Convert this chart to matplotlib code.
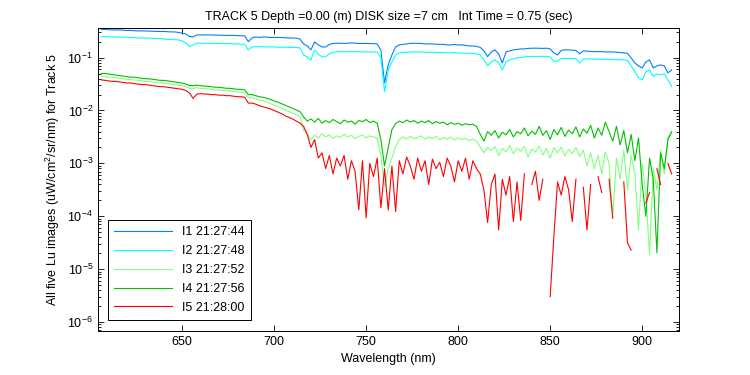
import numpy as np
import matplotlib
matplotlib.use('Agg')
import matplotlib.pyplot as plt
from matplotlib.ticker import LogLocator, NullFormatter

plt.rcParams['font.family'] = ['Liberation Sans', 'DejaVu Sans']
plt.rcParams['mathtext.fontset'] = 'custom'
plt.rcParams['mathtext.rm'] = 'Liberation Sans'
plt.rcParams['mathtext.it'] = 'Liberation Sans'
plt.rcParams['font.size'] = 9

nan = float('nan')

# wavelength grid (nm), 2 nm steps
wl = np.arange(606, 917, 2)

# log10 of Lu
lu1_log = [
    -0.467, -0.467, -0.471, -0.476, -0.476, -0.476, -0.482, -0.486, -0.486, -0.490,
    -0.495, -0.495, -0.495, -0.499, -0.501, -0.505, -0.505, -0.505, -0.509, -0.514,
    -0.514, -0.524, -0.539, -0.552, -0.599, -0.609, -0.571, -0.571, -0.571, -0.571,
    -0.571, -0.575, -0.577, -0.577, -0.580, -0.580, -0.580, -0.584, -0.590, -0.590,
    -0.698, -0.628, -0.609, -0.618, -0.609, -0.614, -0.618, -0.618, -0.618, -0.622,
    -0.628, -0.628, -0.628, -0.633, -0.647, -0.741, -0.779, -0.854, -0.703, -0.760,
    -0.798, -0.798, -0.750, -0.732, -0.728, -0.728, -0.732, -0.728, -0.722, -0.728,
    -0.732, -0.732, -0.732, -0.735, -0.735, -0.741, -0.854, -1.478, -1.138, -0.949,
    -0.798, -0.760, -0.750, -0.741, -0.732, -0.728, -0.732, -0.732, -0.741, -0.741,
    -0.741, -0.747, -0.750, -0.750, -0.760, -0.760, -0.750, -0.760, -0.760, -0.769,
    -0.779, -0.779, -0.788, -0.807, -0.873, -0.981, -0.892, -0.854, -0.930, -1.100,
    -0.892, -0.873, -0.854, -0.845, -0.836, -0.836, -0.826, -0.822, -0.822, -0.822,
    -0.826, -0.822, -0.836, -0.911, -0.949, -0.864, -0.854, -0.854, -0.860, -0.864,
    -0.930, -0.873, -0.879, -0.883, -0.887, -0.887, -0.887, -0.892, -0.892, -0.892,
    -0.898, -0.902, -0.911, -0.917, -1.006, -1.100, -1.157, -1.195, -1.081, -1.043,
    -1.195, -1.157, -1.138, -1.157, -1.289, -1.233,
]

lu2_log = [
    -0.603, -0.603, -0.609, -0.609, -0.609, -0.614, -0.614, -0.614, -0.622, -0.622,
    -0.628, -0.628, -0.628, -0.633, -0.633, -0.641, -0.641, -0.647, -0.652, -0.660,
    -0.660, -0.665, -0.684, -0.722, -0.792, -0.760, -0.728, -0.728, -0.728, -0.728,
    -0.732, -0.732, -0.732, -0.735, -0.735, -0.735, -0.741, -0.741, -0.747, -0.747,
    -0.854, -0.798, -0.792, -0.798, -0.792, -0.798, -0.798, -0.798, -0.803, -0.803,
    -0.803, -0.807, -0.807, -0.807, -0.817, -0.949, -0.987, -1.043, -0.854, -0.930,
    -0.987, -0.981, -0.930, -0.898, -0.892, -0.887, -0.892, -0.887, -0.887, -0.887,
    -0.887, -0.892, -0.892, -0.892, -0.892, -0.898, -1.006, -1.643, -1.233, -1.081,
    -0.949, -0.911, -0.902, -0.898, -0.892, -0.892, -0.892, -0.892, -0.898, -0.898,
    -0.898, -0.902, -0.905, -0.905, -0.911, -0.911, -0.905, -0.911, -0.917, -0.917,
    -0.917, -0.921, -0.930, -0.949, -1.043, -1.157, -1.081, -1.043, -1.100, -1.233,
    -1.081, -1.043, -1.025, -1.006, -0.996, -0.987, -0.981, -0.977, -0.977, -0.977,
    -0.977, -0.977, -0.987, -1.076, -1.062, -1.015, -1.015, -1.015, -1.015, -1.019,
    -1.106, -1.025, -1.025, -1.025, -1.030, -1.030, -1.034, -1.034, -1.034, -1.038,
    -1.038, -1.043, -1.043, -1.053, -1.157, -1.265, -1.384, -1.422, -1.270, -1.233,
    -1.359, -1.308, -1.327, -1.308, -1.422, -1.548,
]

lu3_log = [
    -1.35, -1.36, -1.37, -1.37, -1.38, -1.39, -1.40, -1.41, -1.42, -1.42,
    -1.43, -1.44, -1.45, -1.45, -1.46, -1.47, -1.48, -1.48, -1.49, -1.50,
    -1.51, -1.52, -1.53, -1.55, -1.58, -1.58, -1.57, -1.58, -1.59, -1.59,
    -1.60, -1.61, -1.61, -1.62, -1.63, -1.63, -1.64, -1.65, -1.65, -1.66,
    -1.76, -1.76, -1.78, -1.80, -1.82, -1.84, -1.87, -1.90, -1.93, -1.96,
    -1.99, -2.02, -2.05, -2.08, -2.12, -2.37, -2.45, -2.55, -2.47, -2.52,
    -2.44, -2.50, -2.46, -2.53, -2.48, -2.51, -2.45, -2.50, -2.47, -2.53,
    -2.49, -2.46, -2.52, -2.48, -2.50, -2.52, -2.85, -3.44, -3.10, -2.90,
    -2.69, -2.55, -2.50, -2.54, -2.49, -2.53, -2.51, -2.48, -2.54, -2.50,
    -2.53, -2.49, -2.55, -2.51, -2.54, -2.50, -2.56, -2.52, -2.55, -2.53,
    -2.57, -2.54, -2.58, -2.69, -2.80, -2.70, -2.76, -2.68, -2.85, -2.72,
    -2.78, -2.66, -2.82, -2.71, -2.77, -2.68, -2.88, -2.73, -2.79, -2.67,
    -2.84, -2.72, -2.90, -2.70, -2.80, -2.69, -2.86, -2.74, -2.81, -2.70,
    -2.87, -2.75, -3.05, -2.80, -3.10, -2.85, -3.20, -2.78, -3.00, -4.01,
    -2.90, -3.30, -2.75, -3.50, -2.85, -3.20, -4.26, -3.00, -3.60, -4.73,
    -3.10, -3.50, -2.75, -3.20, -2.50, -2.42,
]

lu4_log = [
    -1.30, -1.30, -1.31, -1.32, -1.33, -1.34, -1.35, -1.36, -1.37, -1.37,
    -1.38, -1.39, -1.40, -1.40, -1.41, -1.42, -1.43, -1.43, -1.44, -1.45,
    -1.46, -1.47, -1.48, -1.50, -1.53, -1.53, -1.52, -1.53, -1.54, -1.54,
    -1.55, -1.56, -1.56, -1.57, -1.58, -1.58, -1.59, -1.60, -1.60, -1.61,
    -1.70, -1.70, -1.72, -1.74, -1.75, -1.77, -1.79, -1.82, -1.84, -1.87,
    -1.90, -1.93, -1.96, -1.99, -2.02, -2.12, -2.20, -2.16, -2.22, -2.15,
    -2.24, -2.19, -2.23, -2.17, -2.21, -2.25, -2.18, -2.22, -2.20, -2.26,
    -2.19, -2.21, -2.17, -2.23, -2.20, -2.24, -2.55, -3.05, -2.70, -2.36,
    -2.25, -2.20, -2.23, -2.18, -2.22, -2.19, -2.24, -2.20, -2.23, -2.19,
    -2.25, -2.21, -2.24, -2.22, -2.27, -2.23, -2.26, -2.24, -2.28, -2.25,
    -2.27, -2.26, -2.30, -2.45, -2.58, -2.40, -2.47, -2.38, -2.52, -2.41,
    -2.46, -2.36, -2.50, -2.40, -2.44, -2.33, -2.48, -2.39, -2.45, -2.30,
    -2.47, -2.38, -2.55, -2.36, -2.46, -2.32, -2.49, -2.37, -2.44, -2.31,
    -2.50, -2.35, -2.43, -2.28, -2.52, -2.33, -2.47, -2.22, -2.40, -2.58,
    -2.30, -2.65, -2.38, -2.80, -2.45, -2.95, -2.52, -3.40, -4.00, -2.90,
    -3.30, -4.69, -2.80, -3.10, -2.55, -2.40,
]

lu5_log = [
    -1.42, -1.43, -1.44, -1.45, -1.45, -1.46, -1.47, -1.48, -1.48, -1.49,
    -1.50, -1.51, -1.51, -1.52, -1.53, -1.54, -1.55, -1.55, -1.56, -1.57,
    -1.58, -1.59, -1.60, -1.62, -1.67, -1.77, -1.69, -1.68, -1.69, -1.69,
    -1.70, -1.70, -1.71, -1.71, -1.72, -1.72, -1.73, -1.74, -1.74, -1.75,
    -1.86, -1.86, -1.88, -1.91, -1.93, -1.95, -1.97, -2.00, -2.03, -2.06,
    -2.10, -2.13, -2.16, -2.20, -2.24, -2.30, -2.45, -2.70, -2.55, -2.90,
    -2.80, -3.10, -2.85, -3.20, -2.90, -3.05, -2.85, -3.30, -2.95, -3.15,
    -3.88, -2.95, -4.03, -3.00, -3.25, -2.90, -3.84, -3.10, -3.88, -3.05,
    -3.91, -2.95, -3.20, -2.88, -3.05, -3.30, -2.90, -3.15, -2.95, -3.40,
    -2.92, -3.10, -2.98, -3.25, -2.90, -3.05, -3.35, -2.95, -3.15, -2.90,
    -3.30, -2.95, -3.10, -3.20, -3.50, -4.12, -3.40, -3.20, -4.26, -3.30,
    -3.60, -3.25, -4.10, -3.35, -4.08, -3.20, nan, -3.40, -3.15, -3.70,
    -3.30, nan, -5.52, -4.39, -3.35, -3.60, -3.25, -3.50, -4.10, -3.30,
    nan, -3.45, -4.26, -3.40, nan, -3.25, -3.55, nan, -3.30, -4.04,
    nan, nan, -3.35, -4.50, -4.64, nan, -3.20, nan, -3.75, -3.55,
    nan, -3.10, -3.40, nan, -3.00, -3.20,
]

labels = ['I1 21:27:44', 'I2 21:27:48', 'I3 21:27:52', 'I4 21:27:56', 'I5 21:28:00']
colors = ['#0080ff', '#00ffff', '#80ff80', '#00c000', '#ff0000']
series = [lu1_log, lu2_log, lu3_log, lu4_log, lu5_log]

fig = plt.figure(figsize=(7.5, 3.75), dpi=100)
ax = fig.add_axes([98 / 750, 1 - 331 / 375, 581 / 750, 303 / 375])

for vals, lab, col in zip(series, labels, colors):
    ax.plot(wl, 10 ** np.array(vals), color=col, lw=0.8, label=lab)

ax.set_yscale('log')
ax.set_xlim(604.3, 920)
ax.set_ylim(10 ** -6.17, 10 ** -0.44)
ax.set_xticks([650, 700, 750, 800, 850, 900])
ax.yaxis.set_major_locator(LogLocator(base=10, numticks=12))
ax.yaxis.set_minor_locator(LogLocator(base=10, subs=np.arange(2, 10), numticks=12))
ax.yaxis.set_minor_formatter(NullFormatter())
ax.tick_params(which='both', direction='in', top=True, right=True, width=0.6)
ax.tick_params(which='major', length=4)
ax.tick_params(which='minor', length=2)
for s in ax.spines.values():
    s.set_linewidth(0.7)

ax.set_xlabel('Wavelength (nm)')
ax.set_ylabel('All five Lu images (uW/cm$^2$/sr/nm) for Track 5')
ax.set_title('TRACK 5 Depth =0.00 (m) DISK size =7 cm   Int Time = 0.75 (sec)', fontsize=9)

leg = ax.legend(loc='lower left', bbox_to_anchor=(0.017, 0.036), borderaxespad=0,
                handlelength=4.6, labelspacing=0.55, fancybox=False,
                edgecolor='black', framealpha=1, borderpad=0.5)
leg.get_frame().set_linewidth(0.7)

fig.savefig('out.png', dpi=100)
